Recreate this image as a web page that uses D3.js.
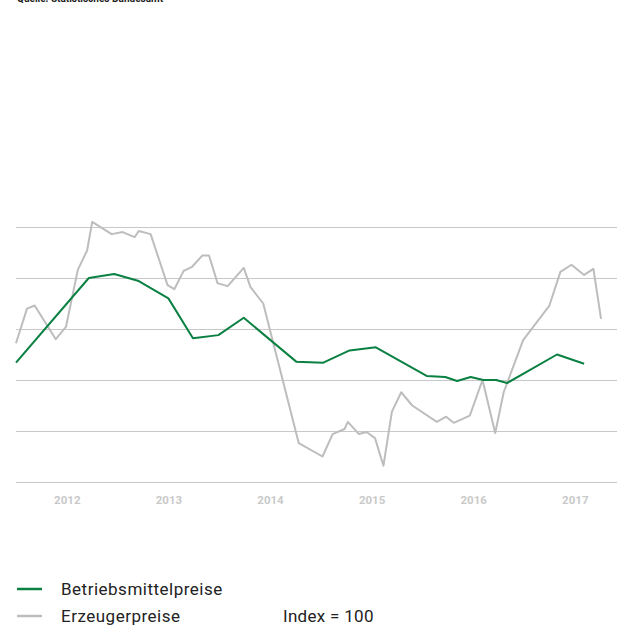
<!DOCTYPE html>
<html><head><meta charset="utf-8">
<script src="https://cdn.jsdelivr.net/npm/d3@7"></script>
<style>body{margin:0;background:#fff}svg{display:block}</style>
</head><body>
<svg id="c" width="617" height="626"></svg>
<script>
// months since January 2012, index values
const erzeugerMonths = [0,1.3,2.2,4.7,5.9,7.3,8.4,9.0,11.3,12.6,14.0,14.5,15.9,17.9,18.7,19.8,20.8,22.0,22.8,23.8,25.0,26.9,27.7,29.2,33.4,36.2,37.4,38.8,39.2,40.5,41.4,42.4,43.4,44.4,45.5,46.8,49.7,50.8,51.7,53.6,55.1,56.6,57.6,59.9,63.0,64.3,65.6,67.1,68.2,69.1];
const erzeugerValues = [103.6,107.0,107.3,104.0,105.2,110.8,112.7,115.5,114.3,114.5,114.0,114.6,114.3,109.3,108.9,110.7,111.1,112.2,112.2,109.5,109.2,111.0,109.1,107.5,93.8,92.5,94.7,95.2,95.9,94.7,94.9,94.3,91.6,96.9,98.8,97.5,95.9,96.4,95.8,96.5,100.0,94.8,98.8,103.9,107.3,110.6,111.3,110.3,110.9,106.0];
const betriebsMonths = [0,8.6,11.6,14.5,18.0,20.9,23.9,26.9,33.1,36.3,39.4,42.5,48.5,50.7,52.1,53.7,55.2,56.7,58.0,63.9,67.1];
const betriebsValues = [101.7,110.0,110.4,109.7,108.0,104.1,104.4,106.1,101.8,101.7,102.9,103.2,100.4,100.3,99.9,100.3,100.0,100.0,99.7,102.5,101.6];
const gridValues = [90,95,100,105,110,115];
const yearLabels = ["2012","2013","2014","2015","2016","2017"];
const legendLabels = ["Betriebsmittelpreise","Erzeugerpreise"];

const svg = d3.select("#c");
const x = d3.scaleLinear().domain([0,72]).range([16,16+72*101.6/12]);
const y = d3.scaleLinear().domain([90,115]).range([482,227]);

svg.append("text").attr("x",17).attr("y",1.5).attr("font-family","Roboto, sans-serif")
  .attr("font-size",10).attr("font-weight","bold").attr("fill","#222").text("Quelle: Statistisches Bundesamt");

svg.append("g").selectAll("line").data(gridValues).join("line")
  .attr("x1",16).attr("x2",617).attr("y1",d=>y(d)+0.5).attr("y2",d=>y(d)+0.5)
  .attr("stroke","#c8c8c8").attr("stroke-width",1);

const xAxis = d3.axisBottom(x).tickValues(yearLabels.map((d,i)=>6+12*i))
  .tickFormat((d,i)=>yearLabels[i]).tickSize(0).tickPadding(0);
const ax = svg.append("g").attr("transform","translate(0,496)").call(xAxis);
ax.select(".domain").remove();
ax.selectAll("text").attr("font-family","Roboto, sans-serif").attr("font-size",11.5)
  .attr("font-weight","bold").attr("fill","#c9c9c9").attr("dy","0.71em");

const line = d3.line().x(d=>x(d[0])).y(d=>y(d[1]));
svg.append("path").datum(d3.zip(erzeugerMonths,erzeugerValues)).attr("d",line)
  .attr("fill","none").attr("stroke","#bdbdbd").attr("stroke-width",2).attr("stroke-linejoin","round");
svg.append("path").datum(d3.zip(betriebsMonths,betriebsValues)).attr("d",line)
  .attr("fill","none").attr("stroke","#0a8042").attr("stroke-width",2).attr("stroke-linejoin","round");

const colors = ["#0a8042","#bdbdbd"];
const lg = svg.append("g");
legendLabels.forEach((t,i)=>{
  const yy = 589 + i*27;
  lg.append("line").attr("x1",17).attr("x2",42).attr("y1",yy).attr("y2",yy)
    .attr("stroke",colors[i]).attr("stroke-width",2.5);
  lg.append("text").attr("x",61).attr("y",yy+6).attr("font-family","Roboto, sans-serif")
    .attr("font-size",17).attr("letter-spacing",0.5).attr("fill","#222").text(t);
});
lg.append("text").attr("x",283).attr("y",622).attr("font-family","Roboto, sans-serif")
  .attr("font-size",17).attr("letter-spacing",0.3).attr("fill","#222").text("Index = 100");
</script>
</body></html>
